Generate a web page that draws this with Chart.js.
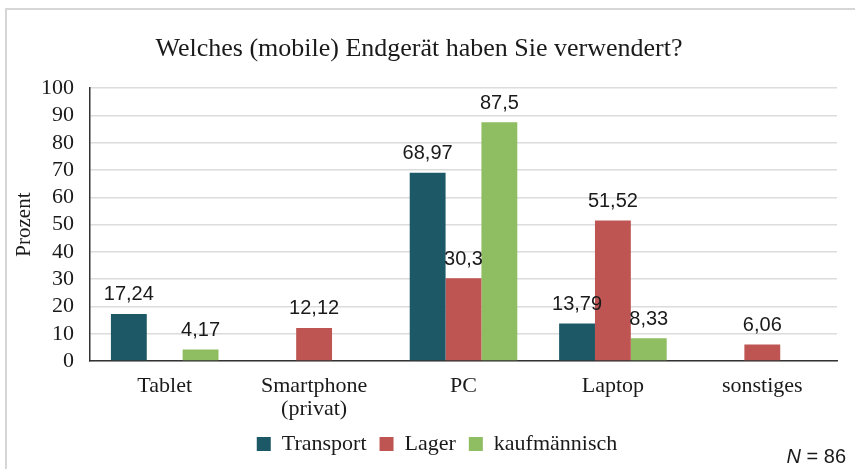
<!DOCTYPE html>
<html>
<head>
<meta charset="utf-8">
<script src="https://cdn.jsdelivr.net/npm/chart.js@4.4.0/dist/chart.umd.min.js"></script>
<style>
    html, body { margin: 0; padding: 0; background: #fff; }
    #wrap { width: 855px; height: 469px; position: relative; }
</style>
</head>
<body>
<div id="wrap"><canvas id="deviceChart" width="855" height="469"></canvas></div>
<script>
// values (percent per job group)
const categories = ["Tablet", ["Smartphone", "(privat)"], "PC", "Laptop", "sonstiges"];
const transport = [17.24, 0, 68.97, 13.79, 0];
const lager = [0, 12.12, 30.3, 51.52, 6.06];
const kaufmaennisch = [4.17, 0, 87.5, 8.33, 0];
const yTicks = [0, 10, 20, 30, 40, 50, 60, 70, 80, 90, 100];
const sampleNote = "86";

const SERIF = "'Liberation Serif', 'Times New Roman', serif";
const SANS = "'Liberation Sans', Arial, sans-serif";

Chart.defaults.font.family = SERIF;
Chart.defaults.color = "#1a1a1a";

// German decimal comma for the value labels
function fmt(v) {
    return String(v).replace(".", ",");
}

const valueLabels = {
    id: "valueLabels",
    afterDatasetsDraw(chart) {
        const ctx = chart.ctx;
        ctx.save();
        ctx.font = "20px " + SANS;
        ctx.fillStyle = "#1a1a1a";
        ctx.textAlign = "center";
        ctx.textBaseline = "middle";
        chart.data.datasets.forEach((ds, i) => {
            chart.getDatasetMeta(i).data.forEach((bar, j) => {
                const v = ds.data[j];
                if (!v) return;
                ctx.fillText(fmt(v), bar.x, bar.y - 19);
            });
        });
        ctx.restore();
    },
};

const frame = {
    id: "frame",
    beforeDraw(chart) {
        // outer chart frame, only top and left edges are inside the picture
        const ctx = chart.ctx;
        ctx.save();
        ctx.strokeStyle = "#d6d6d6";
        ctx.lineWidth = 2;
        ctx.beginPath();
        ctx.moveTo(6, 469);
        ctx.lineTo(6, 9);
        ctx.lineTo(855, 9);
        ctx.stroke();
        ctx.restore();
    },
    afterDraw(chart) {
        // "N = 86" note, bottom right
        const ctx = chart.ctx;
        ctx.save();
        ctx.fillStyle = "#1a1a1a";
        ctx.textBaseline = "alphabetic";
        ctx.textAlign = "right";
        ctx.font = "20px " + SANS;
        const rest = " = " + sampleNote;
        const x = 846;
        ctx.fillText(rest, x, 463);
        const w = ctx.measureText(rest).width;
        ctx.font = "italic 20px " + SANS;
        ctx.fillText("N", x - w, 463);
        ctx.restore();
    },
    afterLayout(chart) {
        // legend sits a bit right of the canvas centre in the original
        if (chart.legend) {
            chart.legend.left += 16;
            chart.legend.right += 16;
        }
        if (chart.titleBlock) {
            chart.titleBlock.left -= 2;
            chart.titleBlock.right -= 2;
        }
    },
};

new Chart(document.getElementById("deviceChart").getContext("2d"), {
    type: "bar",
    data: {
        labels: categories,
        datasets: [
            { label: "Transport", data: transport, backgroundColor: "#1c5865" },
            { label: "Lager", data: lager, backgroundColor: "#bf5552" },
            { label: "kaufmännisch", data: kaufmaennisch, backgroundColor: "#8fbd62" },
        ],
    },
    options: {
        responsive: false,
        animation: false,
        layout: { padding: { left: 5, right: 18, top: 10, bottom: 4 } },
        datasets: { bar: { barPercentage: 1, categoryPercentage: 0.72 } },
        plugins: {
            title: {
                display: true,
                text: "Welches (mobile) Endgerät haben Sie verwendert?",
                color: "#1a1a1a",
                font: { family: SERIF, size: 26, weight: "normal" },
                padding: { top: 24, bottom: 23 },
            },
            legend: {
                position: "bottom",
                labels: {
                    color: "#1a1a1a",
                    font: { family: SERIF, size: 22 },
                    boxWidth: 14,
                    boxHeight: 14,
                    padding: 13,
                },
            },
            tooltip: { enabled: false },
        },
        scales: {
            x: {
                grid: { display: false, drawTicks: false },
                border: { color: "#333", width: 1.5 },
                ticks: {
                    color: "#1a1a1a",
                    font: { family: SERIF, size: 22, lineHeight: 1.05 },
                    padding: 14,
                    maxRotation: 0,
                    autoSkip: false,
                },
                afterFit(scale) { scale.height = 59; },
            },
            y: {
                min: 0,
                max: 100,
                afterBuildTicks(scale) { scale.ticks = yTicks.map((v) => ({ value: v })); },
                grid: { color: "#dcdcdc", lineWidth: 1.5, drawTicks: false },
                border: { color: "#333", width: 1.5 },
                ticks: {
                    color: "#1a1a1a",
                    font: { family: SERIF, size: 22 },
                    padding: 16,
                    autoSkip: false,
                },
                title: {
                    display: true,
                    text: "Prozent",
                    color: "#1a1a1a",
                    font: { family: SERIF, size: 21 },
                    padding: { top: 7, bottom: 4 },
                },
                afterFit(scale) { scale.width = 85; },
            },
        },
    },
    plugins: [valueLabels, frame],
});
</script>
</body>
</html>
